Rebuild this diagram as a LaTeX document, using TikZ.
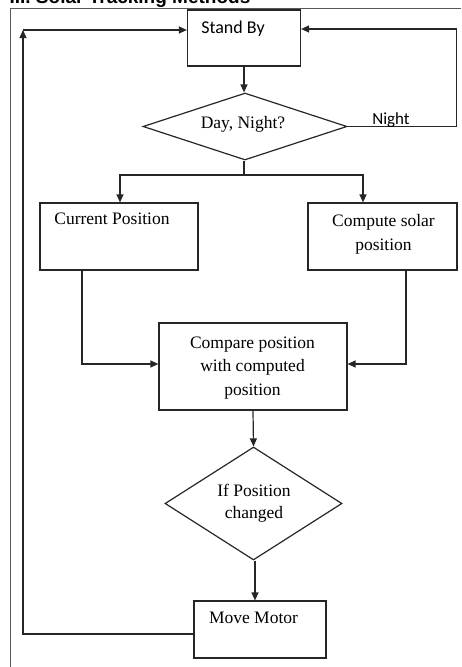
\documentclass[tikz,border=0pt]{standalone}
\usepackage{fontspec}
\setmainfont{Liberation Serif}
\newfontfamily\calfont{Carlito}
\newfontfamily\headfont{Liberation Sans}
\usetikzlibrary{arrows.meta,shapes.geometric}
\begin{document}
\begin{tikzpicture}[x=1pt,y=-1pt,
  line width=1.2pt,
  box/.style={draw=black!85, rectangle, inner sep=0pt},
  dia/.style={draw=black!85, diamond, inner sep=0pt},
  txt/.style={font=\fontsize{17.5}{23.5}\selectfont, align=center, inner sep=0pt, anchor=base},
  ctxt/.style={font=\calfont\fontsize{18}{20}\selectfont, inner sep=0pt, anchor=base},
  arr/.style={draw=black!85, -{Triangle[length=8pt,width=7pt]}},
  ln/.style={draw=black!85},
  frame/.style={draw=black!65, line width=1pt}]
\useasboundingbox (0,0) rectangle (461,667);
\clip (0,0) rectangle (461,667);
% heading (cut off at the top, as in the reference)
\node[font=\headfont\bfseries\fontsize{19}{20}\selectfont, anchor=base west, inner sep=0pt] (head) at (9,3.5) {III. Solar Tracking Methods};
% outer frame
\draw[frame] (461,8) -- (10,8) -- (10,667);
% nodes (multi-line texts are placed at the baseline of their last line)
\node[box, minimum width=113pt, minimum height=56pt] (sb) at (244,38) {};
\node[ctxt] (sbt) at (233,33) {Stand By};
\node[dia, minimum width=204pt, minimum height=67pt] (d1) at (245,126.5) {};
\node[txt] (d1t) at (243,128.7) {Day, Night?};
\node[box, minimum width=158pt, minimum height=67pt] (cp) at (119,236.5) {};
\node[txt] (cpt) at (112,224) {Current Position};
\node[box, minimum width=149pt, minimum height=67pt] (cs) at (382.5,236.5) {};
\node[txt] (cst) at (383.5,250) {Compute solar\\position};
\node[box, minimum width=188pt, minimum height=87pt] (cmp) at (253,366.5) {};
\node[txt] (cmpt) at (252.5,395) {Compare position\\with computed\\position};
\node[dia, minimum width=177pt, minimum height=113pt] (d2) at (253.5,503.5) {};
\node[txt, font=\fontsize{17.5}{22}\selectfont] (d2t) at (254,518) {If Position\\changed};
\node[box, minimum width=132pt, minimum height=57pt] (mm) at (260,629.5) {};
\node[txt] (mmt) at (253.5,623) {Move Motor};
% helper coordinates
\coordinate (j1) at (244,175);
\coordinate (lc) at (23,30);
\coordinate (rc) at (456.5,29);
% connectors
\draw[arr] (sb.south) -- (d1.north -| sb.south);
\draw[ln] (d1.south -| j1) -- (j1);
\draw[arr] (j1) -| ([xshift=1pt]cp.north);
\draw[arr] (j1) -| ([xshift=-19.5pt]cs.north);
\draw[arr] ([xshift=-37pt]cp.south) |- ([yshift=2.5pt]cmp.west);
\draw[arr] ([xshift=23.5pt]cs.south) |- ([yshift=2.5pt]cmp.east);
\draw[arr] (cmp.south) -- (d2.north);
\draw[arr] ([xshift=1.5pt]d2.south) -- ([xshift=1.5pt]d2.south |- mm.north);
\draw[arr] ([yshift=-4.5pt]mm.west) -| (lc);
\draw[arr] (lc) -- ([yshift=8pt]sb.west);
\draw[ln] (d1.east) -- (d1.east -| rc) -- (rc);
\draw[arr] (rc) -- ([yshift=9pt]sb.east);
\node[ctxt, font=\calfont\fontsize{17}{18}\selectfont] (night) at (391,124.3) {Night};
\end{tikzpicture}
\end{document}
